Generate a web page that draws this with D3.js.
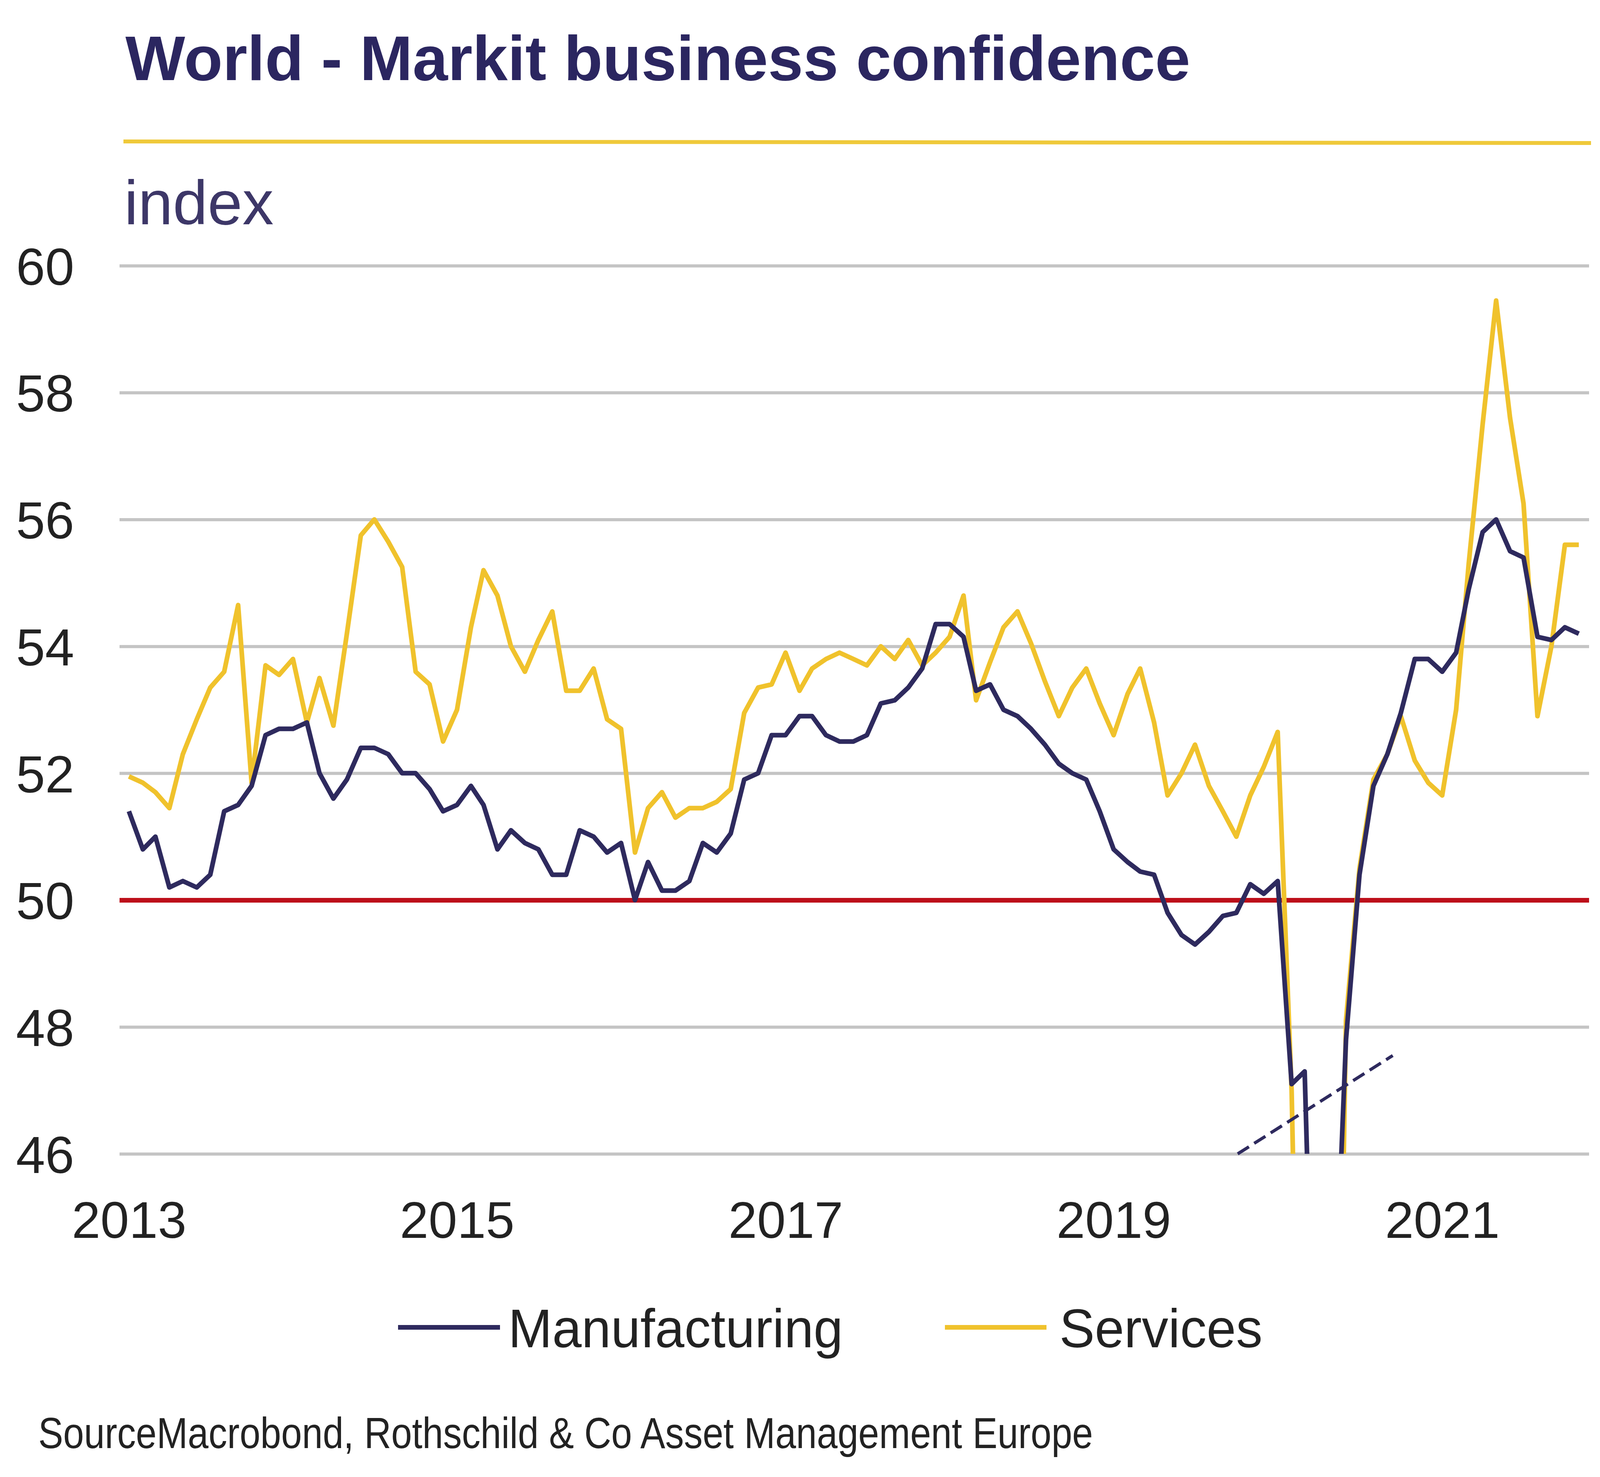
<!DOCTYPE html>
<html>
<head>
<meta charset="utf-8">
<script src="https://cdn.jsdelivr.net/npm/d3@7/dist/d3.min.js"></script>
<style>
  html, body { margin: 0; padding: 0; background: #fff; }
  svg { display: block; font-family: "Liberation Sans", Arial, sans-serif; }
</style>
</head>
<body>
<svg id="chart" width="4224" height="3780"></svg>
<script>
// monthly readings, Jan 2013 .. Nov 2021
const firstMonth = Date.UTC(2013, 0, 1);

const manufacturing = [
  51.4, 50.8, 51.0, 50.2, 50.3, 50.2, 50.4, 51.4, 51.5, 51.8, 52.6, 52.7,
  52.7, 52.8, 52.0, 51.6, 51.9, 52.4, 52.4, 52.3, 52.0, 52.0, 51.75, 51.4,
  51.5, 51.8, 51.5, 50.8, 51.1, 50.9, 50.8, 50.4, 50.4, 51.1, 51.0, 50.75,
  50.9, 50.0, 50.6, 50.15, 50.15, 50.3, 50.9, 50.75, 51.05, 51.9, 52.0, 52.6,
  52.6, 52.9, 52.9, 52.6, 52.5, 52.5, 52.6, 53.1, 53.15, 53.35, 53.65, 54.35,
  54.35, 54.15, 53.3, 53.4, 53.0, 52.9, 52.7, 52.45, 52.15, 52.0, 51.9, 51.4,
  50.8, 50.6, 50.45, 50.4, 49.8, 49.45, 49.3, 49.5, 49.75, 49.8, 50.25, 50.1,
  50.3, 47.1, 47.3, 39.6, 42.4, 47.8, 50.4, 51.8, 52.3, 52.95, 53.8, 53.8,
  53.6, 53.9, 54.9, 55.8, 56.0, 55.5, 55.4, 54.15, 54.1, 54.3, 54.2
];

const services = [
  51.95, 51.85, 51.7, 51.45, 52.3, 52.85, 53.35, 53.6, 54.65, 51.85, 53.7, 53.55,
  53.8, 52.8, 53.5, 52.75, 54.2, 55.75, 56.0, 55.65, 55.25, 53.6, 53.4, 52.5,
  53.0, 54.3, 55.2, 54.8, 54.0, 53.6, 54.1, 54.55, 53.3, 53.3, 53.65, 52.85,
  52.7, 50.75, 51.45, 51.7, 51.3, 51.45, 51.45, 51.55, 51.75, 52.95, 53.35, 53.4,
  53.9, 53.3, 53.65, 53.8, 53.9, 53.8, 53.7, 54.0, 53.8, 54.1, 53.7, 53.9,
  54.15, 54.8, 53.15, 53.75, 54.3, 54.55, 54.05, 53.45, 52.9, 53.35, 53.65, 53.1,
  52.6, 53.25, 53.65, 52.8, 51.65, 52.0, 52.45, 51.8, 51.4, 51.0, 51.65, 52.1,
  52.65, 47.0, 37.0, 23.7, 35.1, 48.1, 50.5, 51.9, 52.3, 52.9, 52.2, 51.85,
  51.65, 53.0, 55.3, 57.5, 59.45, 57.6, 56.25, 52.9, 54.0, 55.6, 55.6
];

const yTicks = [46, 48, 50, 52, 54, 56, 58, 60];
const xTickYears = [2013, 2015, 2017, 2019, 2021];
const seriesNames = ["Manufacturing", "Services"];

// dashed break marker near the 2020 drop: [date, value]
const breakMarker = [
  [Date.UTC(2019, 9, 4), 46.0],
  [Date.UTC(2020, 8, 13), 47.55]
];

const titleText = "World - Markit business confidence";
const unitText = "index";
const sourceText = "SourceMacrobond, Rothschild & Co Asset Management Europe";

const NAVY = "#2e2a5e";
const GOLD = "#f0c22c";
const GRID = "#c4c4c4";
const RED = "#bd0f1a";

const svg = d3.select("#chart");

const plotLeft = 306, plotRight = 4068, plotTop = 680, plotBottom = 2953;

const x = d3.scaleUtc()
  .domain([new Date(Date.UTC(2013, 0, 1)), new Date(Date.UTC(2021, 0, 1))])
  .range([330, 3692]);

const y = d3.scaleLinear()
  .domain([46, 60])
  .range([plotBottom, plotTop]);

const months = manufacturing.map((_, i) => d3.utcMonth.offset(new Date(firstMonth), i));

// title + rule + unit
svg.append("text")
  .attr("x", 321).attr("y", 205)
  .attr("font-size", 162).attr("font-weight", "bold")
  .attr("fill", "#2b2660")
  .attr("textLength", 2726).attr("lengthAdjust", "spacing")
  .text(titleText);

svg.append("line")
  .attr("x1", 316).attr("x2", 4073)
  .attr("y1", 362).attr("y2", 366)
  .attr("stroke", "#efc93a").attr("stroke-width", 10);

svg.append("text")
  .attr("x", 318).attr("y", 574)
  .attr("font-size", 160)
  .attr("fill", "#3d3768")
  .text(unitText);

// y axis with gridlines
const yAxis = svg.append("g")
  .attr("transform", `translate(${plotLeft},0)`)
  .call(d3.axisLeft(y).tickValues(yTicks).tickSize(-(plotRight - plotLeft)).tickPadding(plotLeft - 190).tickFormat(d3.format("d")));
yAxis.select(".domain").remove();
yAxis.selectAll(".tick line")
  .attr("stroke", d => d === 50 ? RED : GRID)
  .attr("stroke-width", d => d === 50 ? 12 : 8);
yAxis.selectAll(".tick text")
  .attr("font-size", 134)
  .attr("fill", "#222")
  .attr("font-family", "'Liberation Sans', Arial, sans-serif")
  .attr("dy", "0.36em");

// x axis labels
const xAxis = svg.append("g")
  .attr("transform", `translate(0,${plotBottom})`)
  .call(d3.axisBottom(x)
    .tickValues(xTickYears.map(yr => new Date(Date.UTC(yr, 0, 1))))
    .tickSize(0)
    .tickFormat(d3.utcFormat("%Y")));
xAxis.select(".domain").remove();
xAxis.selectAll(".tick text")
  .attr("font-size", 132)
  .attr("fill", "#222")
  .attr("font-family", "'Liberation Sans', Arial, sans-serif")
  .attr("y", 215).attr("dy", 0);

// clip lines to the plot box (values under 46 run off the chart)
svg.append("clipPath").attr("id", "plotClip")
  .append("rect")
  .attr("x", plotLeft).attr("y", 560)
  .attr("width", plotRight - plotLeft).attr("height", plotBottom - 560);

const line = d3.line()
  .x((d, i) => x(months[i]))
  .y(d => y(d))
  .curve(d3.curveLinear);

const plot = svg.append("g").attr("clip-path", "url(#plotClip)");

plot.append("path")
  .datum(services)
  .attr("d", line)
  .attr("fill", "none")
  .attr("stroke", GOLD)
  .attr("stroke-width", 12)
  .attr("stroke-linejoin", "round");

plot.append("path")
  .datum(manufacturing)
  .attr("d", line)
  .attr("fill", "none")
  .attr("stroke", NAVY)
  .attr("stroke-width", 12)
  .attr("stroke-linejoin", "round");

svg.append("line")
  .attr("x1", x(new Date(breakMarker[0][0]))).attr("y1", y(breakMarker[0][1]))
  .attr("x2", x(new Date(breakMarker[1][0]))).attr("y2", y(breakMarker[1][1]))
  .attr("stroke", NAVY)
  .attr("stroke-width", 8)
  .attr("stroke-dasharray", "34 16");

// legend
const legendItems = [
  { name: seriesNames[0], color: NAVY, x0: 1019, x1: 1280, tx: 1301, len: 857 },
  { name: seriesNames[1], color: GOLD, x0: 2419, x1: 2679, tx: 2712, len: 520 }
];
const legend = svg.append("g");
legendItems.forEach(it => {
  legend.append("line")
    .attr("x1", it.x0).attr("x2", it.x1)
    .attr("y1", 3397).attr("y2", 3397)
    .attr("stroke", it.color).attr("stroke-width", 12);
  legend.append("text")
    .attr("x", it.tx).attr("y", 3448)
    .attr("font-size", 140)
    .attr("fill", "#222")
    .attr("textLength", it.len).attr("lengthAdjust", "spacingAndGlyphs")
    .text(it.name);
});

svg.append("text")
  .attr("x", 98).attr("y", 3706)
  .attr("font-size", 112)
  .attr("fill", "#222")
  .attr("textLength", 2700).attr("lengthAdjust", "spacingAndGlyphs")
  .text(sourceText);
</script>
</body>
</html>
